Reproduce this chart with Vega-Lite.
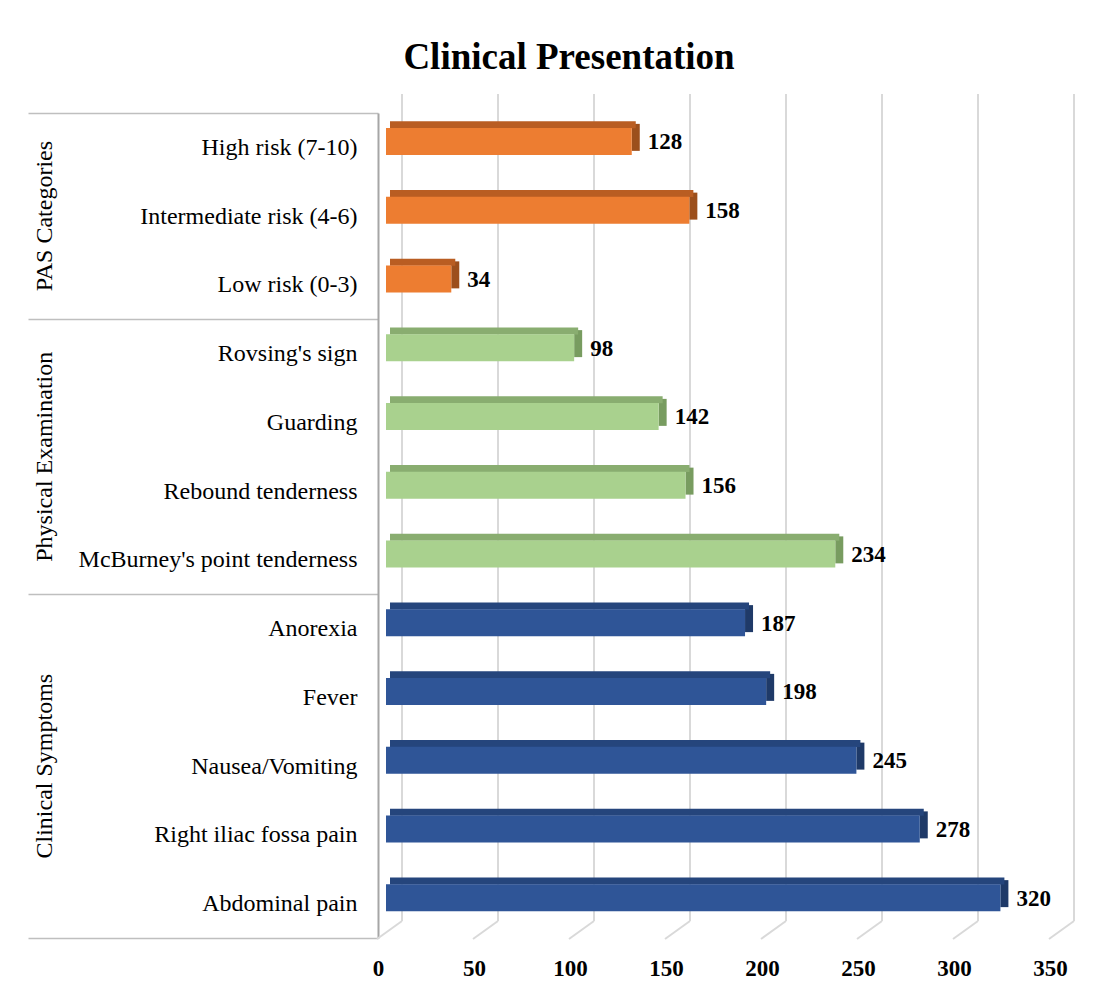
{
  "$schema": "https://vega.github.io/schema/vega-lite/v6.json",
  "autosize": {"type": "none"},
  "padding": {"left": 386, "top": 113, "right": 60, "bottom": 60},
  "width": 672,
  "height": 825,
  "background": "white",
  "title": {
    "text": "Clinical Presentation",
    "font": "Liberation Serif",
    "fontSize": 37,
    "fontWeight": "bold",
    "color": "#000000",
    "anchor": "middle",
    "frame": "group",
    "dx": -153,
    "offset": 16
  },
  "data": {
    "values": [
      {"category": "High risk (7-10)", "group": "PAS Categories", "value": 128},
      {"category": "Intermediate risk (4-6)", "group": "PAS Categories", "value": 158},
      {"category": "Low risk (0-3)", "group": "PAS Categories", "value": 34},
      {"category": "Rovsing's sign", "group": "Physical Examination", "value": 98},
      {"category": "Guarding", "group": "Physical Examination", "value": 142},
      {"category": "Rebound tenderness", "group": "Physical Examination", "value": 156},
      {"category": "McBurney's point tenderness", "group": "Physical Examination", "value": 234},
      {"category": "Anorexia", "group": "Clinical Symptoms", "value": 187},
      {"category": "Fever", "group": "Clinical Symptoms", "value": 198},
      {"category": "Nausea/Vomiting", "group": "Clinical Symptoms", "value": 245},
      {"category": "Right iliac fossa pain", "group": "Clinical Symptoms", "value": 278},
      {"category": "Abdominal pain", "group": "Clinical Symptoms", "value": 320}
    ]
  },
  "layer": [
    {
      "description": "Back-wall gridlines",
      "data": {"values": [{"tick": 0}, {"tick": 50}, {"tick": 100}, {"tick": 150}, {"tick": 200}, {"tick": 250}, {"tick": 300}, {"tick": 350}]},
      "mark": {"type": "rule", "color": "#d9d9d9", "strokeWidth": 2, "xOffset": 16, "yOffset": -19, "y2Offset": -17},
      "encoding": {
        "x": {"field": "tick", "type": "quantitative", "scale": {"domain": [0, 350], "nice": false, "zero": true}},
        "y": {"datum": "High risk (7-10)", "type": "nominal", "bandPosition": 0, "axis": null},
        "y2": {"datum": "Abdominal pain", "bandPosition": 1}
      }
    },
    {
      "description": "Floor lines running from the back wall to the front edge",
      "data": {"values": [{"tick": 0}, {"tick": 50}, {"tick": 100}, {"tick": 150}, {"tick": 200}, {"tick": 250}, {"tick": 300}, {"tick": 350}]},
      "mark": {"type": "rule", "color": "#d9d9d9", "strokeWidth": 2, "xOffset": 16, "x2Offset": -9, "yOffset": -17, "y2Offset": 1},
      "encoding": {
        "x": {"field": "tick", "type": "quantitative"},
        "x2": {"field": "tick"},
        "y": {"datum": "Abdominal pain", "type": "nominal", "bandPosition": 1, "axis": null},
        "y2": {"datum": "Abdominal pain", "bandPosition": 1}
      }
    },
    {
      "description": "Right side face of each bar",
      "mark": {"type": "bar", "height": 27, "yOffset": -10, "x2Offset": 8},
      "encoding": {
        "x": {"field": "value", "type": "quantitative"},
        "x2": {"field": "value"},
        "y": {"field": "category", "type": "nominal", "axis": null},
        "color": {"field": "group", "type": "nominal", "legend": null,
          "scale": {"domain": ["PAS Categories", "Physical Examination", "Clinical Symptoms"], "range": ["#9c4f1c", "#789c60", "#1f3a68"]}}
      }
    },
    {
      "description": "Top face of each bar",
      "mark": {"type": "bar", "height": 7, "yOffset": -22.7, "xOffset": 4, "x2Offset": 4},
      "encoding": {
        "x": {"field": "value", "type": "quantitative"},
        "x2": {"datum": 0},
        "y": {"field": "category", "type": "nominal", "axis": null},
        "color": {"field": "group", "type": "nominal", "legend": null,
          "scale": {"domain": ["PAS Categories", "Physical Examination", "Clinical Symptoms"], "range": ["#b95d22", "#89ad70", "#25457c"]}}
      }
    },
    {
      "description": "Front face of each bar, carrying the category axis and the value axis",
      "mark": {"type": "bar", "height": 27, "yOffset": -6},
      "encoding": {
        "x": {
          "field": "value",
          "type": "quantitative",
          "axis": {
            "title": null,
            "domain": false,
            "ticks": false,
            "grid": false,
            "values": [0, 50, 100, 150, 200, 250, 300, 350],
            "labelFont": "Liberation Serif",
            "labelFontSize": 23,
            "labelFontWeight": "bold",
            "labelColor": "#000000",
            "labelPadding": 30,
            "labelBaseline": "middle",
            "labelOffset": -8,
            "labelFlush": false,
            "labelOverlap": false
          }
        },
        "y": {
          "field": "category",
          "type": "nominal",
          "scale": {
            "domain": ["High risk (7-10)", "Intermediate risk (4-6)", "Low risk (0-3)", "Rovsing's sign", "Guarding", "Rebound tenderness", "McBurney's point tenderness", "Anorexia", "Fever", "Nausea/Vomiting", "Right iliac fossa pain", "Abdominal pain"],
            "paddingInner": 0,
            "paddingOuter": 0
          },
          "axis": {
            "orient": "left",
            "offset": 8,
            "title": null,
            "grid": false,
            "domain": true,
            "domainColor": "#a6a6a6",
            "domainWidth": 2,
            "ticks": true,
            "tickBand": "extent",
            "tickSize": 350,
            "tickWidth": 1.5,
            "tickColor": {
              "condition": {"test": "datum.value === \"Low risk (0-3)\" || datum.value === \"McBurney's point tenderness\" || datum.value === \"Abdominal pain\" || datum.extra", "value": "#bfbfbf"},
              "value": "transparent"
            },
            "labelPadding": -329,
            "labelAlign": "right",
            "labelBaseline": "middle",
            "labelFont": "Liberation Serif",
            "labelFontSize": 24,
            "labelColor": "#000000",
            "labelLimit": 400
          }
        },
        "color": {"field": "group", "type": "nominal", "legend": null,
          "scale": {"domain": ["PAS Categories", "Physical Examination", "Clinical Symptoms"], "range": ["#ed7d31", "#a9d18e", "#2f5597"]}}
      }
    },
    {
      "description": "Value labels, carrying the group axis",
      "mark": {"type": "text", "align": "left", "baseline": "middle", "dx": 16, "dy": -5, "font": "Liberation Serif", "fontSize": 23, "fontWeight": "bold", "color": "#000000"},
      "encoding": {
        "x": {"field": "value", "type": "quantitative"},
        "y": {
          "field": "category",
          "type": "nominal",
          "axis": {
            "orient": "left",
            "offset": 8,
            "title": null,
            "grid": false,
            "domain": false,
            "ticks": false,
            "values": ["Intermediate risk (4-6)", "Guarding", "Nausea/Vomiting"],
            "labelExpr": "datum.value === 'Intermediate risk (4-6)' ? 'PAS Categories' : datum.value === 'Guarding' ? 'Physical Examination' : 'Clinical Symptoms'",
            "labelAngle": -90,
            "labelAlign": "center",
            "labelBaseline": "middle",
            "labelPadding": 334,
            "labelOffset": {"condition": {"test": "datum.value === 'Guarding'", "value": 34.375}, "value": 0},
            "labelFont": "Liberation Serif",
            "labelFontSize": 24,
            "labelColor": "#000000",
            "labelLimit": 400
          }
        },
        "text": {"field": "value", "type": "quantitative"}
      }
    }
  ],
  "resolve": {"scale": {"color": "independent"}, "axis": {"y": "independent"}},
  "config": {
    "view": {"stroke": null}
  }
}
